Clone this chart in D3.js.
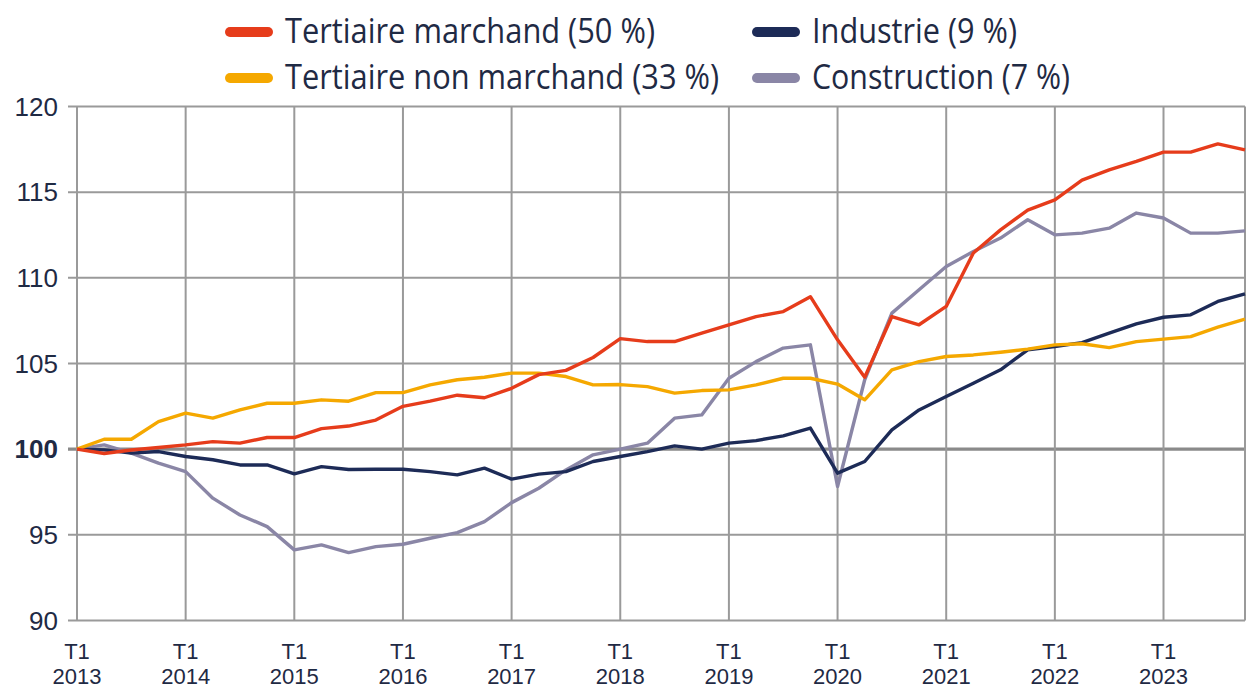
<!DOCTYPE html>
<html>
<head>
<meta charset="utf-8">
<script src="https://cdn.jsdelivr.net/npm/d3@7"></script>
<style>
  html, body { margin: 0; padding: 0; background: #fff; }
  svg { display: block; }
</style>
</head>
<body>
<div id="chart"></div>
<script>
// quarterly index, base 100 = T1 2013
const years = [2013, 2014, 2015, 2016, 2017, 2018, 2019, 2020, 2021, 2022, 2023];
const quarters = years.flatMap(y => ['T1', 'T2', 'T3', 'T4'].map(q => `${q} ${y}`));
const yTicks = [90, 95, 100, 105, 110, 115, 120];

const marchand = [100, 99.75, 99.95, 100.1, 100.25, 100.44, 100.35, 100.68, 100.68, 101.2, 101.35, 101.7,
  102.5, 102.8, 103.15, 103.0, 103.55, 104.35, 104.6, 105.35, 106.45, 106.28, 106.28, 106.77,
  107.26, 107.74, 108.03, 108.9, 106.38, 104.2, 107.74, 107.26, 108.33, 111.45, 112.8, 113.95,
  114.55, 115.7, 116.3, 116.8, 117.34, 117.34, 117.82, 117.47];
const industrie = [100, 99.96, 99.77, 99.86, 99.57, 99.38, 99.08, 99.08, 98.56, 98.98, 98.81, 98.83,
  98.83, 98.69, 98.5, 98.89, 98.25, 98.54, 98.69, 99.28, 99.57, 99.86, 100.19, 100.0,
  100.35, 100.5, 100.78, 101.23, 98.6, 99.28, 101.13, 102.29, 103.07, 103.85, 104.63, 105.8,
  105.99, 106.22, 106.77, 107.31, 107.7, 107.84, 108.62, 109.07];
const nonMarchand = [100, 100.58, 100.58, 101.61, 102.1, 101.81, 102.29, 102.68, 102.68, 102.88, 102.8, 103.3,
  103.3, 103.75, 104.05, 104.2, 104.44, 104.44, 104.24, 103.75, 103.77, 103.65, 103.27, 103.42,
  103.46, 103.75, 104.14, 104.14, 103.8, 102.88, 104.63, 105.11, 105.41, 105.5, 105.66, 105.84,
  106.09, 106.15, 105.93, 106.28, 106.42, 106.57, 107.12, 107.59];
const construction = [100, 100.25, 99.77, 99.18, 98.69, 97.14, 96.16, 95.48, 94.12, 94.41, 93.96, 94.31,
  94.45, 94.8, 95.13, 95.77, 96.88, 97.72, 98.79, 99.67, 100.0, 100.35, 101.81, 102.0,
  104.14, 105.11, 105.9, 106.09, 97.82, 104.05, 107.94, 109.3, 110.66, 111.54, 112.32, 113.39,
  112.51, 112.61, 112.9, 113.78, 113.49, 112.61, 112.61, 112.74];

const series = [
  { name: 'Construction (7 %)', values: construction, color: '#8a86a6' },
  { name: 'Industrie (9 %)', values: industrie, color: '#1d2b57' },
  { name: 'Tertiaire non marchand (33 %)', values: nonMarchand, color: '#f5a800' },
  { name: 'Tertiaire marchand (50 %)', values: marchand, color: '#e63c1b' }
];

const W = 1249, H = 689, M = { t: 106.5, r: 4, b: 68.5, l: 77 };
const svg = d3.select('#chart').append('svg').attr('width', W).attr('height', H);

const x = d3.scaleLinear().domain([0, quarters.length - 1]).range([M.l, W - M.r]);
const y = d3.scaleLinear().domain([90, 120]).range([H - M.b, M.t]);
const grid = '#9a9a9a', ink = '#1f2a44';

// horizontal grid, with small ticks out to the left
svg.append('g').selectAll('line').data(yTicks).enter().append('line')
  .attr('x1', M.l - 9).attr('x2', W - M.r)
  .attr('y1', d => y(d)).attr('y2', d => y(d))
  .attr('stroke', d => d === 100 ? '#8a8a8a' : grid)
  .attr('stroke-width', d => d === 100 ? 3.2 : 2);

// vertical grid at each T1 + right border
const vx = years.map(yr => x(quarters.indexOf(`T1 ${yr}`))).concat([W - M.r]);
svg.append('g').selectAll('line').data(vx).enter().append('line')
  .attr('x1', d => d).attr('x2', d => d)
  .attr('y1', M.t).attr('y2', H - M.b)
  .attr('stroke', grid).attr('stroke-width', 2);

// y labels
svg.append('g').selectAll('text').data(yTicks).enter().append('text')
  .attr('x', 58).attr('y', d => y(d) + 9)
  .attr('text-anchor', 'end')
  .attr('font-family', 'Liberation Sans, Arial, sans-serif')
  .attr('font-size', 26)
  .attr('font-weight', d => d === 100 ? 'bold' : 'normal')
  .attr('fill', ink)
  .text(d => d);

// x labels
const xl = svg.append('g').selectAll('text').data(years).enter().append('text')
  .attr('text-anchor', 'middle')
  .attr('font-family', 'Liberation Sans, Arial, sans-serif')
  .attr('font-size', 22)
  .attr('fill', ink);
xl.append('tspan').attr('x', d => x(quarters.indexOf(`T1 ${d}`))).attr('y', 659).text('T1');
xl.append('tspan').attr('x', d => x(quarters.indexOf(`T1 ${d}`))).attr('y', 684).text(d => d);

// lines
const line = d3.line().x((d, i) => x(i)).y(d => y(d));
svg.append('g').selectAll('path').data(series).enter().append('path')
  .attr('d', d => line(d.values))
  .attr('fill', 'none')
  .attr('stroke', d => d.color)
  .attr('stroke-width', 3.4)
  .attr('stroke-linejoin', 'round');

// legend
const legend = [
  { s: series[3], x: 225, y: 32, w: 370 },
  { s: series[1], x: 752, y: 32, w: 205 },
  { s: series[2], x: 225, y: 78, w: 434 },
  { s: series[0], x: 752, y: 78, w: 258 }
];
const lg = svg.append('g').selectAll('g').data(legend).enter().append('g')
  .attr('transform', d => `translate(${d.x},${d.y})`);
lg.append('line')
  .attr('x1', 5).attr('x2', 43).attr('y1', 0).attr('y2', 0)
  .attr('stroke', d => d.s.color).attr('stroke-width', 10).attr('stroke-linecap', 'round');
lg.append('text')
  .attr('x', 60).attr('y', 11)
  .attr('font-family', 'Open Sans, Noto Sans, sans-serif')
  .attr('font-size', 35)
  .attr('fill', ink)
  .attr('textLength', d => d.w)
  .attr('lengthAdjust', 'spacingAndGlyphs')
  .text(d => d.s.name);
</script>
</body>
</html>
